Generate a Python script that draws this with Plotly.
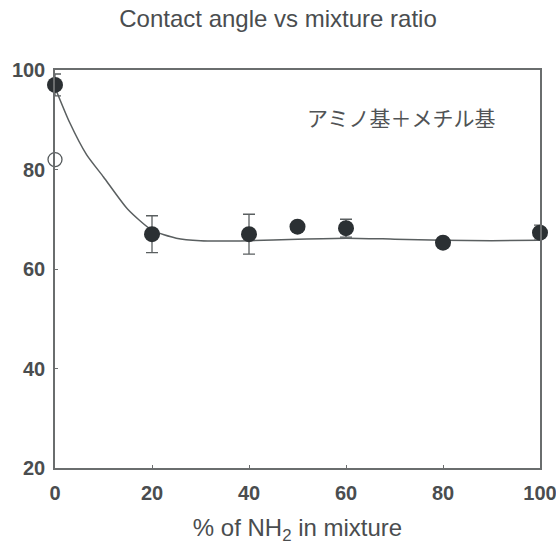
import plotly.graph_objects as go

x_pts = [0, 20, 40, 50, 60, 80, 100]
y_pts = [97.0, 67.0, 67.0, 68.5, 68.2, 65.3, 67.3]
err_pts = [2.2, 3.7, 4.0, 0.8, 1.8, 0.5, 1.5]

x_open = [0]
y_open = [82.0]

x_fit = [0, 3, 6.5, 10, 15, 20, 25, 30, 40, 50, 60, 70, 80, 90, 100]
y_fit = [96.5, 89.5, 83.0, 78.5, 72.0, 67.8, 66.2, 65.7, 65.7, 66.0, 66.2, 66.0, 65.8, 65.7, 65.8]

x_ticks = [0, 20, 40, 60, 80, 100]
y_ticks = [20, 40, 60, 80, 100]

dark = "#2b3033"
axis_col = "#6a6d6e"
text_col = "#4a4d4f"

fig = go.Figure()
fig.add_trace(go.Scatter(x=x_fit, y=y_fit, mode="lines", line=dict(color="#5a5f60", width=1.5, shape="spline", smoothing=0.6),
                         hoverinfo="skip", showlegend=False))
fig.add_trace(go.Scatter(x=x_pts, y=y_pts, mode="markers",
                         marker=dict(size=16, color=dark, line=dict(width=0)),
                         error_y=dict(type="data", array=err_pts, color="#5a5f60", thickness=1.3, width=6),
                         showlegend=False, cliponaxis=False))
fig.add_trace(go.Scatter(x=x_open, y=y_open, mode="markers",
                         marker=dict(size=14, color="white", line=dict(width=1.3, color="#555a5c")),
                         showlegend=False, cliponaxis=False))

fig.add_annotation(x=71.5, y=90.5, xref="x", yref="y", text="アミノ基＋メチル基", showarrow=False,
                   font=dict(family="Noto Sans CJK JP", size=21, color="#505355"))

fig.update_layout(
    width=556, height=551,
    margin=dict(l=55, r=16, t=70, b=83, autoexpand=False),
    paper_bgcolor="white", plot_bgcolor="white",
    title=dict(text="Contact angle vs mixture ratio", x=0.5, xanchor="center", y=1 - 19 / 551, yanchor="middle",
               font=dict(family="Liberation Sans", size=24, color=text_col)),
    xaxis=dict(range=[0, 100], tickvals=x_ticks, ticks="inside", ticklen=3, tickcolor=axis_col,
               showline=True, linecolor=axis_col, linewidth=1.5, mirror=True, showgrid=False, zeroline=False,
               automargin=False, ticklabelstandoff=6, ticklabeloverflow="allow",
               tickfont=dict(family="Liberation Sans", size=20, color=text_col, weight="bold"),
               title=dict(text="% of NH<sub>2</sub> in mixture", standoff=16,
                          font=dict(family="Liberation Sans", size=24, color=text_col))),
    yaxis=dict(range=[20, 100], tickvals=y_ticks, ticks="inside", ticklen=3, tickcolor=axis_col,
               showline=True, linecolor=axis_col, linewidth=1.5, mirror=True, showgrid=False, zeroline=False,
               automargin=False, ticklabelstandoff=4, ticklabeloverflow="allow",
               tickfont=dict(family="Liberation Sans", size=20, color=text_col, weight="bold")),
)

fig.write_html("out.html")
